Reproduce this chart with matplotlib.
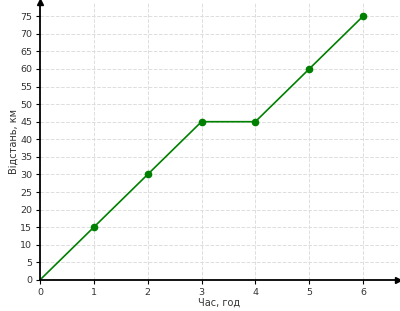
import matplotlib
matplotlib.use("Agg")
import matplotlib.pyplot as plt

hours = [0, 1, 2, 3, 4, 5, 6]
distance = [0, 15, 30, 45, 45, 60, 75]
x_ticks = [0, 1, 2, 3, 4, 5, 6]
y_ticks = list(range(0, 80, 5))

fig = plt.figure(figsize=(4, 3.11), dpi=100)
ax = fig.add_axes([0.1, 0.1, 0.895, 0.893])

ax.plot(hours, distance, color="green", linewidth=1.2)
ax.plot(hours[1:], distance[1:], "o", color="green", markersize=4.5)

ax.set_xlim(0, 6.65)
ax.set_ylim(0, 79)
ax.set_xticks(x_ticks)
ax.set_yticks(y_ticks)
ax.tick_params(labelsize=6.8, length=3, pad=2.5, labelcolor="#333333")

ax.grid(True, linestyle="--", color="#dddddd", linewidth=0.7)

for side in ["top", "right"]:
    ax.spines[side].set_visible(False)
for side in ["left", "bottom"]:
    ax.spines[side].set_linewidth(1.3)

# arrows at the ends of axes
ax.plot(1, 0, ">k", markersize=4, transform=ax.get_yaxis_transform(), clip_on=False)
ax.plot(0, 1, "^k", markersize=4, transform=ax.get_xaxis_transform(), clip_on=False)

ax.set_xlabel("Час, год", fontsize=7, labelpad=1, color="#333333")
ax.set_ylabel("Відстань, км", fontsize=7, labelpad=1, color="#333333")

fig.savefig("out.png", dpi=100)
